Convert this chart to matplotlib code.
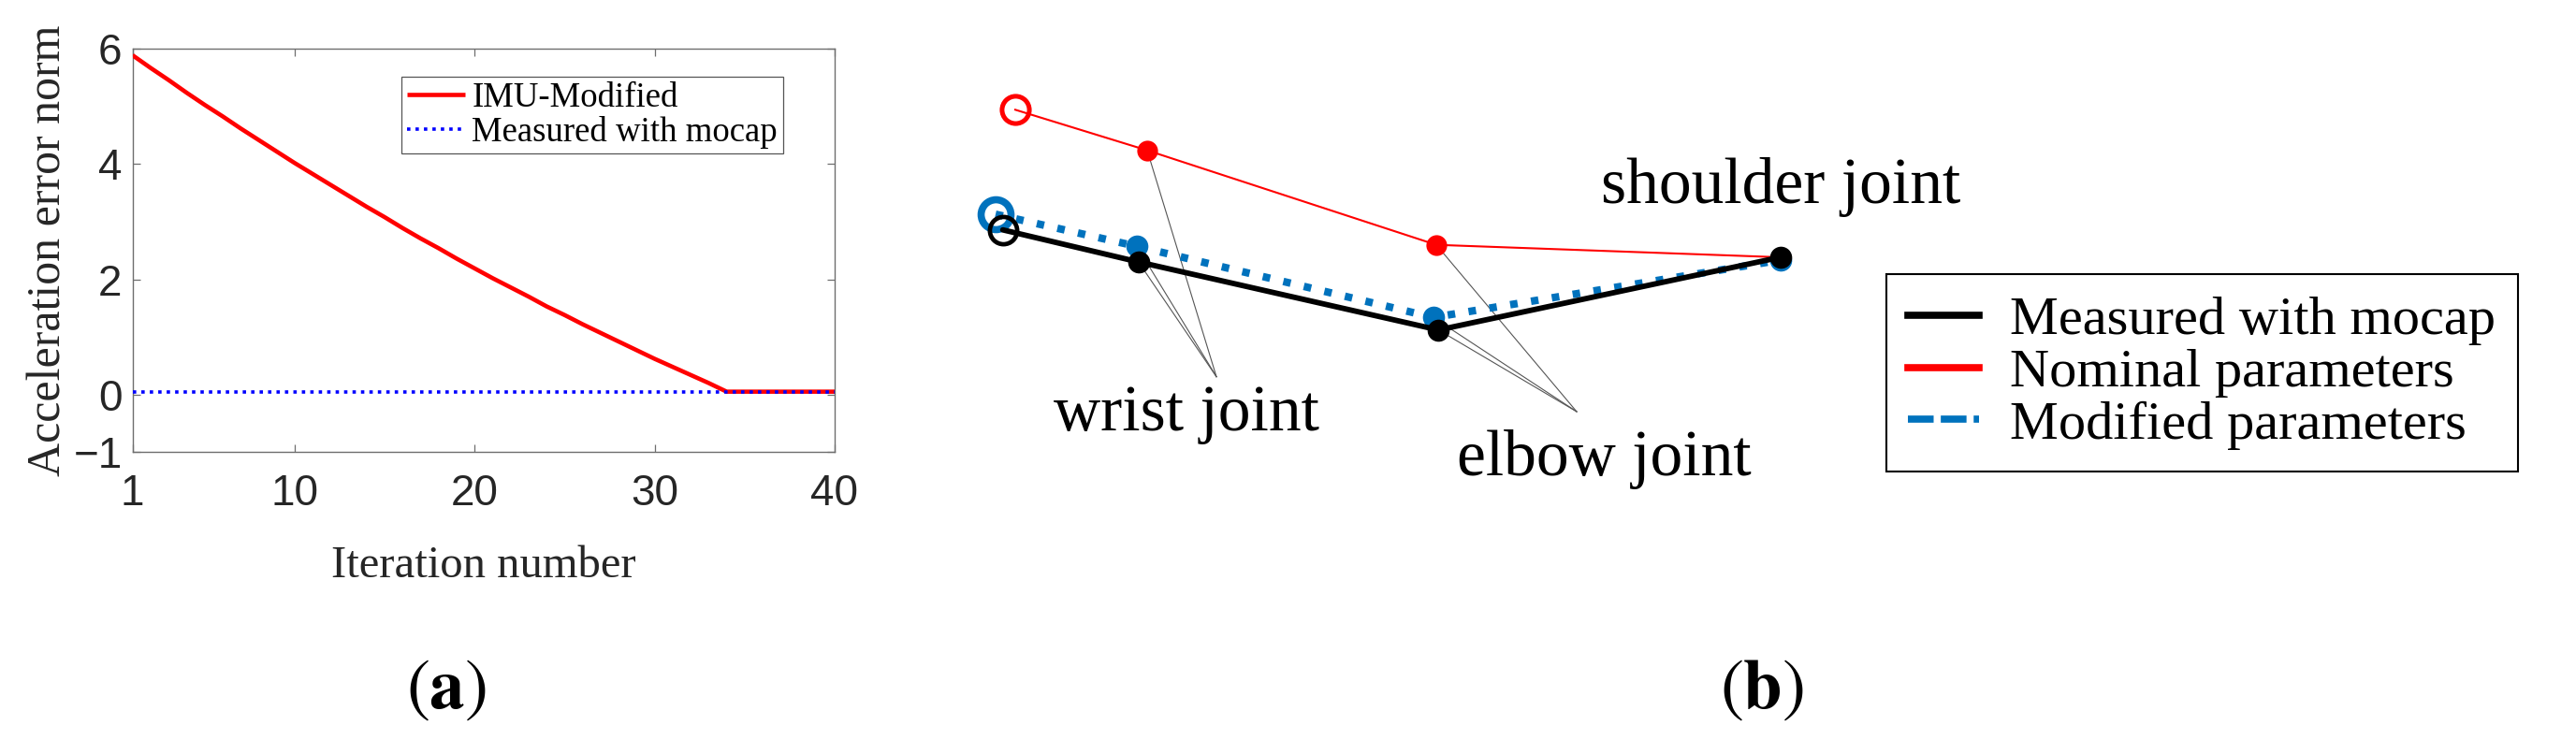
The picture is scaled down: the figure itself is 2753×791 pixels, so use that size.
import matplotlib
matplotlib.use('Agg')
import matplotlib.pyplot as plt
from matplotlib.lines import Line2D

plt.rcParams['mathtext.fontset'] = 'stix'
plt.rcParams['axes.unicode_minus'] = True

SERIF = ['Liberation Serif', 'DejaVu Serif']
NARROW = ['Liberation Sans Narrow', 'Liberation Sans', 'DejaVu Sans']

# ---------------- data: panel (a) ----------------
iterations = [1, 2, 3, 4, 5, 6, 7, 8, 9, 10,
              11, 12, 13, 14, 15, 16, 17, 18, 19, 20,
              21, 22, 23, 24, 25, 26, 27, 28, 29, 30,
              31, 32, 33, 34, 35, 36, 37, 38, 39, 40]
imu_modified = [5.89, 5.67, 5.46, 5.24, 5.03, 4.83, 4.62, 4.42, 4.22, 4.02,
                3.83, 3.64, 3.45, 3.26, 3.08, 2.89, 2.71, 2.54, 2.36, 2.19,
                2.02, 1.86, 1.70, 1.53, 1.38, 1.22, 1.07, 0.92, 0.77, 0.62,
                0.48, 0.34, 0.20, 0.05, 0.05, 0.05, 0.05, 0.05, 0.05, 0.05]
mocap_iter = [1, 40]
mocap_error = [0.05, 0.05]
x_ticks = [1, 10, 20, 30, 40]
y_ticks = [-1, 0, 2, 4, 6]

# ---------------- data: panel (b) (image-plane coordinates) ----------------
mocap_x = [1071.7, 1216.7, 1537.3, 1902.7]
mocap_y = [245.7, 280.0, 352.7, 275.0]
nominal_x = [1085.0, 1226.0, 1535.0, 1902.7]
nominal_y = [117.3, 160.7, 261.7, 275.0]
modified_x = [1064.0, 1215.0, 1531.7, 1903.0]
modified_y = [229.0, 263.3, 339.3, 278.0]
joint_labels = ['wrist joint', 'elbow joint', 'shoulder joint']
label_x = [1267.5, 1714.0, 1903.0]
label_y = [460.0, 508.0, 216.7]
pointer_x = [1300.0, 1685.0]
pointer_y = [402.7, 440.0]

W, H = 2753, 791
fig = plt.figure(figsize=(W / 100, H / 100), dpi=100)

# ---------------- panel (a) ----------------
L, R, T, B = 141.7, 892.0, 52.3, 483.3
ax = fig.add_axes([L / W, 1 - B / H, (R - L) / W, (B - T) / H])
ax.plot(iterations, imu_modified, color='#ff0000', lw=3.3, zorder=3,
        solid_capstyle='butt', label='IMU-Modified')
ax.plot(mocap_iter, mocap_error, color='#0000ff', lw=2.6, zorder=4,
        linestyle=(0, (1.0, 1.5)), dash_capstyle='butt',
        label='Measured with mocap')
ax.set_xlim(1, 40)
ax.set_ylim(-1, 6)
ax.set_xticks(x_ticks)
ax.set_yticks(y_ticks)
for s in ax.spines.values():
    s.set_color('#6e6e6e')
    s.set_linewidth(1.0)
ax.tick_params(direction='in', length=5.8, width=0.9, color='#6e6e6e',
               top=True, right=True, labelsize=33, labelcolor='#262626')
ax.tick_params(axis='x', pad=16)
ax.tick_params(axis='y', pad=8)
for lab in ax.get_xticklabels() + ax.get_yticklabels():
    lab.set_fontfamily(NARROW)

ax.set_xlabel('Iteration number', fontfamily=SERIF, fontsize=35, color='#262626')
ax.xaxis.label.set_va('baseline')
ax.xaxis.set_label_coords(0.5, -(617.4 - B) / (B - T))
ax.set_ylabel('Acceleration error norm', fontfamily=SERIF, fontsize=36, color='#262626')
ax.yaxis.label.set_va('center')
ax.yaxis.set_label_coords((52.5 - L) / (R - L), 0.5)

leg_a = ax.legend(loc='upper left', bbox_to_anchor=(429 / W, 1 - 82 / H),
                  bbox_transform=fig.transFigure,
                  prop={'family': SERIF, 'size': 26.5},
                  frameon=True, fancybox=False, edgecolor='#555555',
                  framealpha=1, borderpad=0.15, labelspacing=0.05,
                  handlelength=1.7, handletextpad=0.2, borderaxespad=0)
leg_a.get_frame().set_linewidth(0.9)

fig.text(477 / W, 1 - 736 / H, r'$(\mathbf{a})$', ha='center', va='center',
         fontsize=54)

# ---------------- panel (b) ----------------
axb = fig.add_axes([1000 / W, 0, (W - 1000) / W, 1])
axb.set_xlim(1000, W)
axb.set_ylim(H, 0)
axb.axis('off')

# pointer lines from labels to joints
for k, idx in enumerate([1, 2]):
    for xs, ys in [(nominal_x, nominal_y), (modified_x, modified_y), (mocap_x, mocap_y)]:
        axb.plot([pointer_x[k], xs[idx]], [pointer_y[k], ys[idx]],
                 color='#555555', lw=0.8, zorder=1)

red = '#ff0000'
blue = '#0072bd'
axb.plot(nominal_x, nominal_y, color=red, lw=1.5, zorder=2)
axb.plot(nominal_x[1:3], nominal_y[1:3], 'o', ms=16, color=red, mew=0, zorder=2)
axb.plot(nominal_x[:1], nominal_y[:1], 'o', ms=21, mfc='none', mec=red, mew=3.6, zorder=2)

axb.plot(modified_x, modified_y, color=blue, lw=5.8, linestyle=(0, (1.0, 1.8)),
         dash_capstyle='butt', zorder=3)
axb.plot(modified_x[1:], modified_y[1:], 'o', ms=17, color=blue, mew=0, zorder=3)
axb.plot(modified_x[:1], modified_y[:1], 'o', ms=23, mfc='none', mec=blue, mew=5.5, zorder=3)

axb.plot(mocap_x, mocap_y, color='black', lw=4.2, zorder=4, solid_capstyle='round')
axb.plot(mocap_x[1:], mocap_y[1:], 'o', ms=17, color='black', mew=0, zorder=4)
axb.plot(mocap_x[:1], mocap_y[:1], 'o', ms=21, mfc='none', mec='black', mew=3.4, zorder=4)

for txt, tx, ty in zip(joint_labels, label_x, label_y):
    axb.text(tx, ty, txt, ha='center', va='baseline', fontsize=50,
             fontfamily=SERIF, color='black')

handles = [Line2D([], [], color='black', lw=5.5),
           Line2D([], [], color=red, lw=5.5),
           Line2D([], [], color=blue, lw=5.5, linestyle=(0, (3.6, 1.0)),
                  dash_capstyle='butt')]
labels = ['Measured with mocap', 'Nominal parameters', 'Modified parameters']
leg_b = axb.legend(handles, labels, loc='upper left',
                   bbox_to_anchor=(2016 / W, 1 - 293 / H),
                   bbox_transform=fig.transFigure,
                   prop={'family': SERIF, 'size': 42},
                   frameon=True, fancybox=False, edgecolor='black',
                   framealpha=1, borderpad=0.4, labelspacing=0.05,
                   handlelength=1.3, handletextpad=0.57, borderaxespad=0)
leg_b.get_frame().set_linewidth(1.5)

fig.text(1883 / W, 1 - 736 / H, r'$(\mathbf{b})$', ha='center', va='center',
         fontsize=54)

fig.savefig('out.png', dpi=100)
